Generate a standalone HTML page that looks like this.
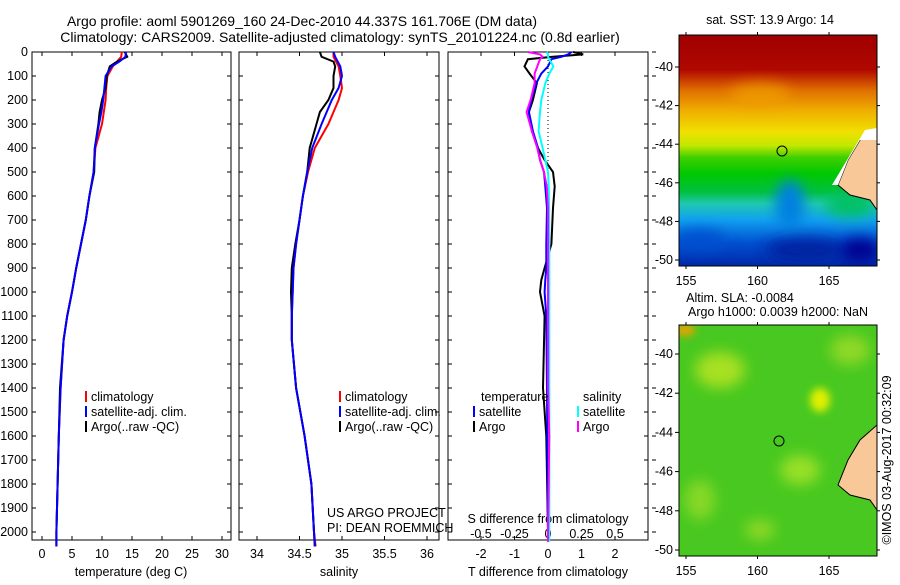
<!DOCTYPE html>
<html><head><meta charset="utf-8"><style>
body{margin:0;background:#fff;width:900px;height:580px;overflow:hidden;font-family:"Liberation Sans",sans-serif;}
svg text{font-family:"Liberation Sans",sans-serif;font-size:12.5px;fill:#000;}
svg text.title{font-size:14px;}
</style></head><body>
<svg id="chart" width="900" height="580" xmlns="http://www.w3.org/2000/svg">
<defs>
<filter id="blur3" x="-100%" y="-100%" width="300%" height="300%"><feGaussianBlur stdDeviation="4"/></filter>
<filter id="blur6" x="-100%" y="-100%" width="300%" height="300%"><feGaussianBlur stdDeviation="7"/></filter>
<clipPath id="m1c"><rect x="679" y="35" width="198" height="231"/></clipPath>
<clipPath id="m2c"><rect x="679" y="325" width="198" height="231"/></clipPath>
<linearGradient id="sstg" x1="0" y1="0" x2="0" y2="1">
<stop offset="0" stop-color="#a00000"/><stop offset="0.15" stop-color="#b00800"/>
<stop offset="0.24" stop-color="#e07000"/><stop offset="0.33" stop-color="#f0b000"/>
<stop offset="0.42" stop-color="#f0e000"/><stop offset="0.48" stop-color="#c0e800"/>
<stop offset="0.53" stop-color="#40d000"/><stop offset="0.6" stop-color="#00c800"/>
<stop offset="0.68" stop-color="#00c040"/><stop offset="0.73" stop-color="#20c8b0"/>
<stop offset="0.8" stop-color="#10a0f0"/><stop offset="0.9" stop-color="#0050d0"/>
<stop offset="1" stop-color="#0028a8"/>
</linearGradient>
</defs>
<text class="title" x="302" y="26" text-anchor="middle">Argo profile: aoml 5901269_160 24-Dec-2010 44.337S 161.706E (DM data)</text>
<text class="title" x="340" y="42" text-anchor="middle">Climatology: CARS2009. Satellite-adjusted climatology: synTS_20101224.nc (0.8d earlier)</text>
<g id="plots"></g>
<!-- SST map -->
<g clip-path="url(#m1c)">
<rect x="679" y="35" width="198" height="231" fill="url(#sstg)"/>
<ellipse cx="760" cy="95" rx="30" ry="12" fill="#f0a000" filter="url(#blur6)" opacity="0.7"/>
<ellipse cx="700" cy="240" rx="25" ry="10" fill="#0050d0" filter="url(#blur6)"/>
<ellipse cx="790" cy="205" rx="15" ry="25" fill="#0080e0" filter="url(#blur6)"/>
<ellipse cx="805" cy="250" rx="40" ry="12" fill="#0020a0" filter="url(#blur6)"/>
<ellipse cx="860" cy="250" rx="20" ry="12" fill="#000090" filter="url(#blur6)"/>
<ellipse cx="850" cy="205" rx="25" ry="12" fill="#00c060" filter="url(#blur6)"/>
<path d="M877 130 L860 140 L848 160 L838 185 L850 195 L870 200 L877 210 Z" fill="#f8c898" stroke="#000" stroke-width="1"/>
<path d="M865 130 L877 128 L877 140 L860 140 L848 160 L838 185 L832 185 Z" fill="#fff"/>
</g>
<rect x="679" y="35" width="198" height="231" fill="none" stroke="#000"/>
<circle cx="782" cy="151" r="5" fill="none" stroke="#000"/>
<!-- SLA map -->
<g clip-path="url(#m2c)">
<rect x="679" y="325" width="198" height="231" fill="#48c820"/>
<ellipse cx="720" cy="370" rx="25" ry="18" fill="#a8e020" filter="url(#blur6)"/>
<ellipse cx="820" cy="400" rx="10" ry="12" fill="#e0f000" filter="url(#blur3)"/>
<ellipse cx="800" cy="470" rx="20" ry="15" fill="#98e028" filter="url(#blur6)"/>
<ellipse cx="700" cy="500" rx="15" ry="20" fill="#88d828" filter="url(#blur6)"/>
<ellipse cx="760" cy="530" rx="15" ry="10" fill="#90d828" filter="url(#blur6)"/>
<ellipse cx="850" cy="350" rx="20" ry="15" fill="#90d828" filter="url(#blur6)"/>
<ellipse cx="685" cy="330" rx="10" ry="6" fill="#f0a000" filter="url(#blur3)"/>
<path d="M877 425 L860 440 L848 460 L838 485 L850 495 L870 500 L877 510 Z" fill="#f8c898" stroke="#000" stroke-width="1"/>
</g>
<rect x="679" y="325" width="198" height="231" fill="none" stroke="#000"/>
<circle cx="779" cy="441" r="5" fill="none" stroke="#000"/>
<text x="770" y="24" text-anchor="middle">sat. SST: 13.9 Argo: 14</text>
<text x="740" y="302" text-anchor="middle">Altim. SLA: -0.0084</text>
<text x="778" y="316" text-anchor="middle">Argo h1000: 0.0039 h2000: NaN</text>
<text transform="translate(891,460) rotate(-90)" text-anchor="middle">©IMOS 03-Aug-2017 00:32:09</text>
</svg>
<script>
// ---- data ----
const depthTicks=[0,100,200,300,400,500,600,700,800,900,1000,1100,1200,1300,1400,1500,1600,1700,1800,1900,2000];
const tempTicks=[0,5,10,15,20,25,30];
const salTicks=[34,34.5,35,35.5,36];
const salTickLabels=["34","34.5","35","35.5","36"];
const tdTicks=[-2,-1,0,1,2];
const sdTicks=[-0.5,-0.25,0,0.25,0.5];
const sdTickLabels=["-0.5","-0.25","0","0.25","0.5"];
const pDepth=[0,20,40,60,100,150,200,250,300,400,500,600,700,800,900,1000,1100,1200,1400,1600,1800,2000,2060];
const tempClim=[13.3,13.2,12.5,11.8,10.9,10.7,10.6,10.3,10.0,8.9,8.6,7.9,7.3,6.5,5.7,5.0,4.2,3.6,3.1,2.8,2.6,2.4,2.4];
const tempSat=[14.0,13.9,12.9,11.6,10.6,10.4,10.2,9.9,9.5,8.8,8.6,7.9,7.3,6.5,5.7,5.0,4.2,3.6,3.1,2.8,2.6,2.4,2.4];
const tempArgo=[13.8,14.2,12.5,11.3,10.8,10.6,10.0,9.6,9.4,8.8,8.7,7.9,7.3,6.5,5.7,5.0,4.2,3.6,3.0,2.8,2.6,2.4,2.4];
const salClim=[34.9,34.9,34.93,34.96,34.98,35.0,34.96,34.9,34.84,34.68,34.6,34.54,34.5,34.46,34.43,34.42,34.41,34.41,34.46,34.56,34.64,34.67,34.69];
const salSat=[34.9,34.92,34.95,34.98,35.0,34.96,34.88,34.82,34.76,34.65,34.59,34.54,34.5,34.46,34.43,34.42,34.41,34.41,34.46,34.56,34.64,34.67,34.68];
const salArgo=[34.74,34.76,34.9,34.92,34.9,34.9,34.84,34.74,34.7,34.62,34.59,34.54,34.5,34.45,34.41,34.4,34.41,34.41,34.46,34.56,34.64,34.67,34.68];
const dDepth=[0,10,20,30,60,90,130,200,250,330,400,450,500,560,650,800,900,950,1000,1100,1400,1600,2000,2040];
const tdSat=[0.7,0.6,0.4,0.1,0.0,-0.2,-0.35,-0.5,-0.57,-0.45,-0.3,-0.24,-0.12,-0.08,-0.03,-0.05,-0.05,-0.08,-0.1,-0.05,-0.03,-0.02,0,0];
const tdArgo=[0.75,1.05,0.15,-0.6,-0.7,-0.55,-0.33,-0.45,-0.57,-0.48,-0.3,-0.1,0.15,0.2,0.15,0.1,-0.1,-0.2,-0.24,-0.1,-0.15,-0.05,0,0];
const sdArgo=[-0.15,-0.06,-0.04,-0.06,-0.08,-0.1,-0.1,-0.13,-0.16,-0.12,-0.08,-0.06,-0.03,-0.01,0,0,0,0,0,0,0,0.01,0,0];
const sdSat=[-0.01,0,0,0.01,0.04,0.01,-0.02,-0.05,-0.06,-0.07,-0.04,-0.02,0,0.005,0.008,0.01,0.01,0.01,0.01,0.01,0.01,0.01,0.01,0.01];
const mapLatTicks=[-40,-42,-44,-46,-48,-50];
const mapLonTicks=[155,160,165];

// ---- scales ----
const yD=d=>52+d*0.24;
const xT=t=>42+t*6;
const xS=s=>257+(s-34)*85;
const xTD=t=>548+t*33.5;
const xSD=s=>548+s*134;
const xLon=l=>686+(l-155)*14.3;
const yLat1=l=>67+(-40-l)*19.3;
const yLat2=l=>354+(-40-l)*19.6;

const NS="http://www.w3.org/2000/svg";
const g=document.getElementById('plots');
function mk(tag,attrs,parent){const e=document.createElementNS(NS,tag);for(const k in attrs)e.setAttribute(k,attrs[k]);(parent||g).appendChild(e);return e;}
function txt(x,y,s,anchor){const e=mk('text',{x:x,y:y,'text-anchor':anchor||'start'});e.textContent=s;return e;}

const panels=[{x:32,w:199},{x:239,w:200},{x:448,w:200}];
panels.forEach((p,i)=>{
  const r=mk('rect',{x:p.x,y:52,width:p.w,height:488,fill:'none',stroke:'#000'});
  
  
});
depthTicks.forEach(d=>{
  const t=txt(28,yD(d)+4,String(d),'end');
  
  
  panels.forEach(p=>{mk('line',{x1:p.x,x2:p.x+4,y1:yD(d),y2:yD(d),stroke:'#000'});mk('line',{x1:p.x+p.w,x2:p.x+p.w-4,y1:yD(d),y2:yD(d),stroke:'#000'});});
  mk('line',{x1:652,x2:656,y1:yD(d),y2:yD(d),stroke:'#000'});
});
function xticks(vals,labels,f,y){vals.forEach((v,i)=>{const x=f(v);mk('line',{x1:x,x2:x,y1:52,y2:56,stroke:'#000'});mk('line',{x1:x,x2:x,y1:540,y2:536,stroke:'#000'});
  const t=txt(x,y,labels[i],'middle');
  
  });}
xticks(tempTicks,tempTicks.map(String),xT,558);
xticks(salTicks,salTickLabels,xS,558);
xticks(tdTicks,tdTicks.map(String),xTD,558);
sdTicks.forEach((v,i)=>{const t=txt(xSD(v),538,sdTickLabels[i],'middle');
  
  });
[[131,'temperature (deg C)','x-axis-title-temperature'],[339,'salinity','x-axis-title-salinity'],[548,'T difference from climatology','x-axis-title-t-diff']].forEach(a=>{
  const t=txt(a[0],576,a[1],'middle');
  
  });
let t1=txt(548,523,'S difference from climatology','middle');


let t2=txt(327,517,'US ARGO PROJECT');


let t3=txt(327,532,'PI: DEAN ROEMMICH');


mk('line',{x1:548,x2:548,y1:52,y2:540,stroke:'#000','stroke-dasharray':'1,3'});

function line(depths,vals,fx,color,name){
  const pts=depths.map((d,i)=>fx(vals[i]).toFixed(1)+','+yD(d).toFixed(1)).join(' ');
  const pl=mk('polyline',{points:pts,fill:'none',stroke:color,'stroke-width':2});
  
  
}
line(pDepth,tempClim,xT,'#f00','temp-climatology-line');
line(pDepth,tempArgo,xT,'#000','temp-argo-line');
line(pDepth,tempSat,xT,'#00f','temp-satellite-line');
line(pDepth,salClim,xS,'#f00','sal-climatology-line');
line(pDepth,salArgo,xS,'#000','sal-argo-line');
line(pDepth,salSat,xS,'#00f','sal-satellite-line');
line(dDepth,tdArgo,xTD,'#000','tdiff-argo-line');
line(dDepth,tdSat,xTD,'#00f','tdiff-satellite-line');
line(dDepth,sdSat,xSD,'#0ff','sdiff-satellite-line');
line(dDepth,sdArgo,xSD,'#f0f','sdiff-argo-line');

function legend(x,y,color,label){
  mk('line',{x1:x,x2:x,y1:y-10,y2:y+1,stroke:color,'stroke-width':2});
  const t=txt(x+5,y,label);
  
  
}
[[86,401,'#f00','climatology'],[86,416,'#00f','satellite-adj. clim.'],[86,431,'#000','Argo(..raw -QC)'],
 [340,401,'#f00','climatology'],[340,416,'#00f','satellite-adj. clim.'],[340,431,'#000','Argo(..raw -QC)'],
 [474,416,'#00f','satellite'],[474,431,'#000','Argo'],[578,416,'#0ff','satellite'],[578,431,'#f0f','Argo']].forEach(a=>legend(a[0],a[1],a[2],a[3]));
let t4=txt(481,401,'temperature');


let t5=txt(583,401,'salinity');



const svg=document.getElementById('chart');
mapLatTicks.forEach(l=>{
  [yLat1,yLat2].forEach(f=>{const y=f(l);
    mk('line',{x1:675,x2:679,y1:y,y2:y,stroke:'#000'},svg);mk('line',{x1:877,x2:880,y1:y,y2:y,stroke:'#000'},svg);
    const t=mk('text',{x:673,y:y+4,'text-anchor':'end'},svg);t.textContent=String(l);
    
    });
});
mapLonTicks.forEach(l=>{const x=xLon(l);
  [[35,266,285],[325,556,575]].forEach(a=>{
    mk('line',{x1:x,x2:x,y1:a[0]-3,y2:a[0],stroke:'#000'},svg);mk('line',{x1:x,x2:x,y1:a[1],y2:a[1]+3,stroke:'#000'},svg);
    const t=mk('text',{x:x,y:a[2],'text-anchor':'middle'},svg);t.textContent=String(l);
    
    });
});
</script>
</body></html>
